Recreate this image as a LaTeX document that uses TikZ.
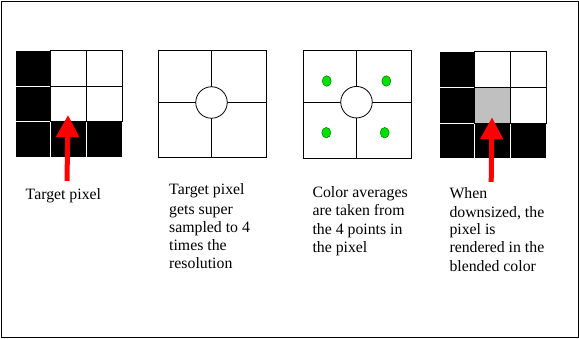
\documentclass[tikz,border=0pt]{standalone}
\usepackage{fontspec}
\setmainfont{Liberation Serif}
\usetikzlibrary{arrows.meta,shapes.geometric}
\definecolor{dotgreen}{RGB}{0,225,0}
\definecolor{dotedge}{RGB}{0,120,0}
\definecolor{blend}{RGB}{192,192,192}
\tikzset{
  blk/.style={rectangle,draw=white,fill=black,line width=1pt,inner sep=0pt,minimum width=35.7pt,minimum height=35.7pt},
  wht/.style={rectangle,draw=black,fill=white,line width=1pt,inner sep=0pt,minimum width=35.7pt,minimum height=35.7pt},
  gry/.style={wht,fill=blend},
  sq/.style={rectangle,draw=black,fill=white,line width=1pt,inner sep=0pt},
  ring/.style={circle,draw=black,fill=white,line width=0.8pt,inner sep=0pt,minimum size=31.5pt},
  gdot/.style={ellipse,draw=dotedge,fill=dotgreen,line width=0.5pt,inner sep=0pt,minimum width=9pt,minimum height=10.5pt},
  redarrow/.style={draw=red,line width=5pt,-{Triangle[width=22pt,length=22pt]}},
  lbl/.style={anchor=base west,inner sep=0pt,font=\fontsize{15.8pt}{18.3pt}\selectfont},
  frame/.style={draw=black,line width=1pt}
}
\begin{document}
\begin{tikzpicture}[x=1pt,y=-1pt]
\useasboundingbox (0,0) rectangle (579,339);
\draw[frame] (1.5,1.5) rectangle (578,338);
% grid 1
\node[blk] (g1a) at (32.85,68.35) {};
\node[blk] (g1d) at (32.85,104.05) {};
\node[blk] (g1g) at (32.85,139.75) {};
\node[blk] (g1h) at (68.55,139.75) {};
\node[blk] (g1i) at (104.25,139.75) {};
\node[wht] (g1b) at (68.55,68.35) {};
\node[wht] (g1c) at (104.25,68.35) {};
\node[wht] (g1e) at (68.55,104.05) {};
\node[wht] (g1f) at (104.25,104.05) {};
\coordinate (a1s) at (67,181);
\coordinate (a1t) at (68,115);
\draw[redarrow] (a1s) -- (a1t);
\node[lbl] (t1) at (25.5,200) {Target pixel};
% square 2
\node[sq,minimum width=108.4pt,minimum height=107.7pt] (s2) at (212.5,104.15) {};
\coordinate (s2t) at (211.7,50.3);
\coordinate (s2b) at (211.7,158);
\coordinate (s2l) at (158.3,102.3);
\coordinate (s2r) at (266.7,102.3);
\draw[line width=1pt] (s2t) -- (s2b);
\draw[line width=1pt] (s2l) -- (s2r);
\node[ring] (c2) at (211.5,102.5) {};
\node[lbl] (t2a) at (169,195) {Target pixel};
\node[lbl] (t2b) at (169,214.3) {gets super};
\node[lbl] (t2c) at (169,232.7) {sampled to 4};
\node[lbl] (t2d) at (169,250.3) {times the};
\node[lbl] (t2e) at (169,268.3) {resolution};
% square 3
\node[sq,minimum width=108pt,minimum height=108pt] (s3) at (357.3,104.3) {};
\coordinate (s3t) at (356.7,50.3);
\coordinate (s3b) at (356.7,158.3);
\coordinate (s3l) at (303.3,102.3);
\coordinate (s3r) at (411.3,102.3);
\draw[line width=1pt] (s3t) -- (s3b);
\draw[line width=1pt] (s3l) -- (s3r);
\node[ring] (c3) at (356.5,102.2) {};
\node[gdot] (d1) at (326.7,81) {};
\node[gdot] (d2) at (386.3,81) {};
\node[gdot] (d3) at (326.3,132.7) {};
\node[gdot] (d4) at (384.7,132.7) {};
\node[lbl] (t3a) at (312.3,197.7) {Color averages};
\node[lbl] (t3b) at (312.3,216) {are taken from};
\node[lbl] (t3c) at (312.3,234.3) {the 4 points in};
\node[lbl] (t3d) at (312.3,252.7) {the pixel};
% grid 4
\node[blk] (g4a) at (456.9,69.55) {};
\node[blk] (g4d) at (456.9,105.25) {};
\node[blk] (g4g) at (456.9,140.95) {};
\node[blk] (g4h) at (492.6,140.95) {};
\node[blk] (g4i) at (528.3,140.95) {};
\node[wht] (g4b) at (492.6,69.55) {};
\node[wht] (g4c) at (528.3,69.55) {};
\node[gry] (g4e) at (492.6,105.25) {};
\node[wht] (g4f) at (528.3,105.25) {};
\coordinate (a4s) at (491.2,182);
\coordinate (a4t) at (492,117.3);
\draw[redarrow] (a4s) -- (a4t);
\node[lbl] (t4a) at (449.3,199) {When};
\node[lbl] (t4b) at (449.3,217.3) {downsized, the};
\node[lbl] (t4c) at (449.3,235) {pixel is};
\node[lbl] (t4d) at (449.3,252.7) {rendered in the};
\node[lbl] (t4e) at (449.3,271.7) {blended color};
\end{tikzpicture}
\end{document}
